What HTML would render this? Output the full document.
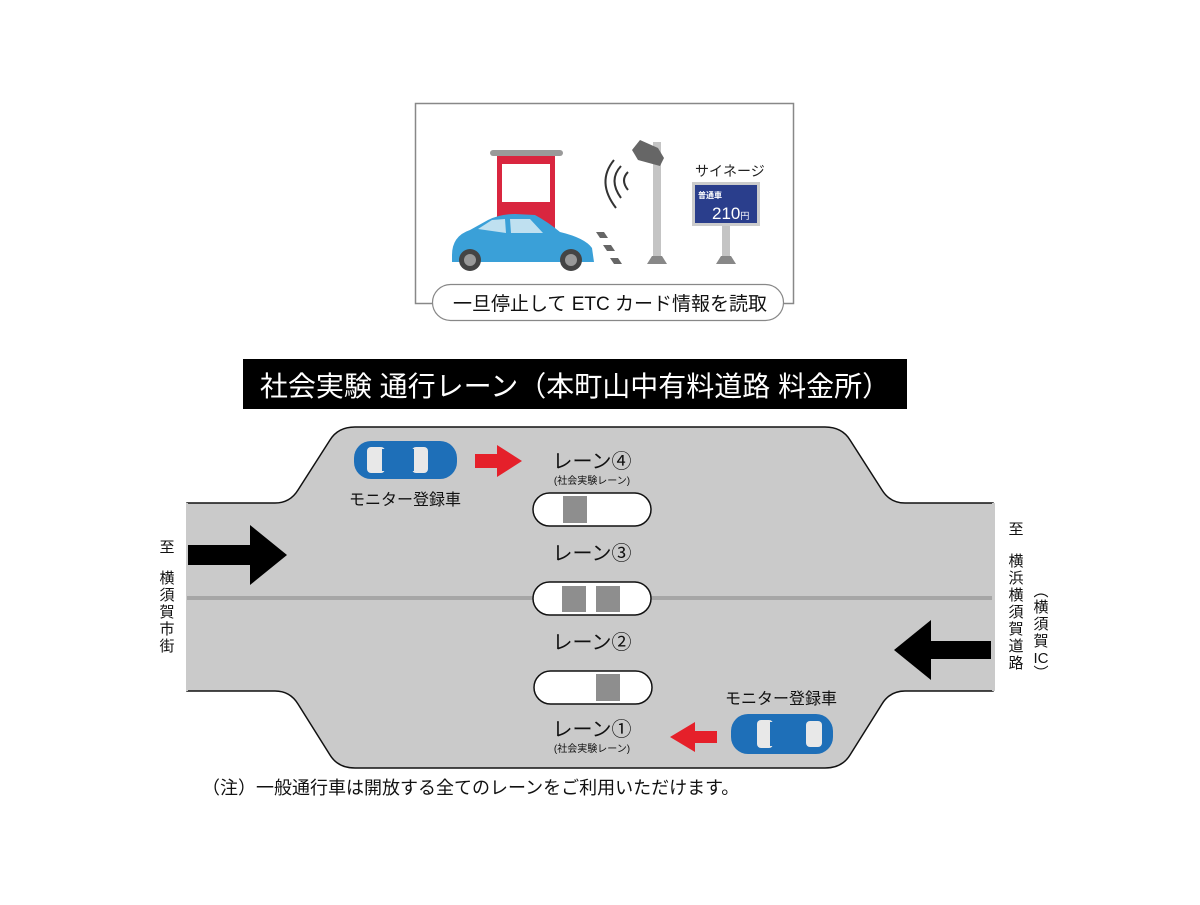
<!DOCTYPE html>
<html><head><meta charset="utf-8"><style>
body{margin:0;background:#fff;}
svg text{font-family:"Liberation Sans","Noto Sans CJK JP",sans-serif;}
</style></head><body>
<svg width="1200" height="900" viewBox="0 0 1200 900" xmlns="http://www.w3.org/2000/svg">
<rect width="1200" height="900" fill="#fff"/>
<!-- top box -->
<rect x="415.5" y="103.5" width="378" height="200" fill="#fff" stroke="#888" stroke-width="1.5"/>
<!-- booth -->
<rect x="490" y="150" width="73" height="6" rx="3" fill="#9a9a9a"/>
<rect x="497" y="156" width="58" height="80" fill="#d9263f"/>
<rect x="502" y="164" width="48" height="38" fill="#fff"/>
<!-- car side -->
<path d="M452 255 Q452 236 470 230 L488 220 Q500 214 515 214 L535 215 Q548 222 560 232 Q585 238 592 248 L594 262 L452 262 Z" fill="#3aa0d8"/>
<path d="M478 229 L492 220 L505 219 L506 233 Z M510 219 L530 219 L543 233 L511 233 Z" fill="#bfe0f0"/>
<circle cx="470" cy="260" r="11" fill="#444"/><circle cx="470" cy="260" r="6" fill="#999"/>
<circle cx="571" cy="260" r="11" fill="#444"/><circle cx="571" cy="260" r="6" fill="#999"/>
<!-- stripes -->
<path d="M596 232 l8 0 l4 6 l-8 0z M603 245 l8 0 l4 6 l-8 0z M610 258 l8 0 l4 6 l-8 0z" fill="#666"/>
<!-- antenna pole -->
<rect x="653" y="142" width="8" height="115" fill="#c4c4c4"/>
<path d="M647 264 l5 -8 h10 l5 8z" fill="#888"/>
<path d="M632 150 l8 -10 l18 8 l6 10 l-4 8 l-22 -6z" fill="#666"/>
<path d="M628 172 Q620 180 628 190 M621 166 Q608 180 621 198 M614 160 Q596 182 616 208" stroke="#333" stroke-width="2" fill="none"/>
<!-- signage -->
<text x="695" y="176" font-size="14" fill="#222">サイネージ</text>
<rect x="692" y="182" width="68" height="44" fill="#ccc"/>
<rect x="695" y="185" width="62" height="38" fill="#2a3e8c"/>
<text x="698" y="198" font-size="8" fill="#fff" font-weight="bold">普通車</text>
<text x="712" y="219" font-size="17" fill="#fff">210<tspan font-size="9">円</tspan></text>
<rect x="722" y="226" width="8" height="32" fill="#c4c4c4"/>
<path d="M716 264 l5 -8 h10 l5 8z" fill="#888"/>
<!-- pill -->
<rect x="432.5" y="284.5" width="351" height="36" rx="18" fill="#fff" stroke="#888" stroke-width="1.2"/>
<text x="610" y="310" font-size="19" text-anchor="middle" fill="#111">一旦停止して ETC カード情報を読取</text>
<!-- title -->
<rect x="243" y="359" width="664" height="50" fill="#000"/>
<text x="575" y="396" font-size="28" text-anchor="middle" fill="#fff">社会実験 通行レーン（本町山中有料道路 料金所）</text>
<!-- road -->
<path d="M187 503 L275 503 Q290 503 298 490 L330 440 Q338 427 355 427 L825 427 Q842 427 850 440 L882 490 Q890 503 905 503 L993 503 L993 691 L905 691 Q890 691 882 704 L850 755 Q842 768 825 768 L355 768 Q338 768 330 755 L298 704 Q290 691 275 691 L187 691 Z" fill="#cacaca" stroke="#111" stroke-width="1.5"/>
<rect x="186" y="503" width="2" height="188" fill="#cacaca"/>
<rect x="992" y="503" width="3" height="188" fill="#cacaca"/>
<rect x="187" y="596" width="805" height="4" fill="#a6a6a6"/>
<!-- booths -->
<rect x="533" y="493" width="118" height="33" rx="16.5" fill="#fff" stroke="#111" stroke-width="1.5"/>
<rect x="563" y="496" width="24" height="27" fill="#8e8e8e"/>
<rect x="533" y="582" width="118" height="33" rx="16.5" fill="#fff" stroke="#111" stroke-width="1.5"/>
<rect x="562" y="586" width="24" height="26" fill="#8e8e8e"/>
<rect x="596" y="586" width="24" height="26" fill="#8e8e8e"/>
<rect x="534" y="671" width="118" height="33" rx="16.5" fill="#fff" stroke="#111" stroke-width="1.5"/>
<rect x="596" y="674" width="24" height="27" fill="#8e8e8e"/>
<!-- lane labels -->
<text x="592" y="468" font-size="20" text-anchor="middle" fill="#111">レーン④</text>
<text x="592" y="484" font-size="10" text-anchor="middle" fill="#111">(社会実験レーン)</text>
<text x="592" y="560" font-size="20" text-anchor="middle" fill="#111">レーン③</text>
<text x="592" y="649" font-size="20" text-anchor="middle" fill="#111">レーン②</text>
<text x="592" y="736" font-size="20" text-anchor="middle" fill="#111">レーン①</text>
<text x="592" y="752" font-size="10" text-anchor="middle" fill="#111">(社会実験レーン)</text>
<!-- cars top view -->
<g>
<rect x="354" y="441" width="103" height="38" rx="17" fill="#1e6fb8"/>
<rect x="367" y="447" width="18" height="26" rx="4" fill="#e8e8e8"/>
<rect x="412" y="447" width="16" height="26" rx="4" fill="#e8e8e8"/>
<rect x="382" y="449" width="32" height="22" fill="#1e6fb8"/>
</g>
<text x="405" y="505" font-size="16" text-anchor="middle" fill="#111">モニター登録車</text>
<g>
<rect x="731" y="714" width="102" height="40" rx="17" fill="#1e6fb8"/>
<rect x="757" y="720" width="16" height="28" rx="4" fill="#e8e8e8"/>
<rect x="806" y="721" width="16" height="26" rx="4" fill="#e8e8e8"/>
<rect x="770" y="722" width="36" height="24" fill="#1e6fb8"/>
</g>
<text x="781" y="704" font-size="16" text-anchor="middle" fill="#111">モニター登録車</text>
<!-- red arrows -->
<path d="M475 454 h22 v-9 l25 16 l-25 16 v-9 h-22z" fill="#e5202a"/>
<path d="M717 731 h-22 v-9 l-25 15 l25 15 v-9 h22z" fill="#e5202a"/>
<!-- black arrows -->
<path d="M188 545 h62 v-20 l37 30 l-37 30 v-20 h-62z" fill="#000"/>
<path d="M991 641 h-60 v-21 l-37 30 l37 30 v-21 h60z" fill="#000"/>
<!-- side labels -->
<text x="167" y="552" font-size="15" text-anchor="middle" fill="#111">至</text>
<text font-size="15" text-anchor="middle" fill="#111"><tspan x="167" y="583">横</tspan><tspan x="167" y="600">須</tspan><tspan x="167" y="617">賀</tspan><tspan x="167" y="634">市</tspan><tspan x="167" y="651">街</tspan></text>
<text x="1016" y="534" font-size="15" text-anchor="middle" fill="#111">至</text>
<text font-size="15" text-anchor="middle" fill="#111"><tspan x="1016" y="566">横</tspan><tspan x="1016" y="583">浜</tspan><tspan x="1016" y="600">横</tspan><tspan x="1016" y="617">須</tspan><tspan x="1016" y="634">賀</tspan><tspan x="1016" y="651">道</tspan><tspan x="1016" y="668">路</tspan></text>
<text font-size="15" text-anchor="middle" fill="#111"><tspan x="1041" y="596">︵</tspan><tspan x="1041" y="612">横</tspan><tspan x="1041" y="629">須</tspan><tspan x="1041" y="646">賀</tspan><tspan x="1041" y="663">IC</tspan><tspan x="1041" y="678">︶</tspan></text>
<!-- note -->
<text x="202" y="794" font-size="18" fill="#111">（注）一般通行車は開放する全てのレーンをご利用いただけます。</text>
</svg>
</body></html>
